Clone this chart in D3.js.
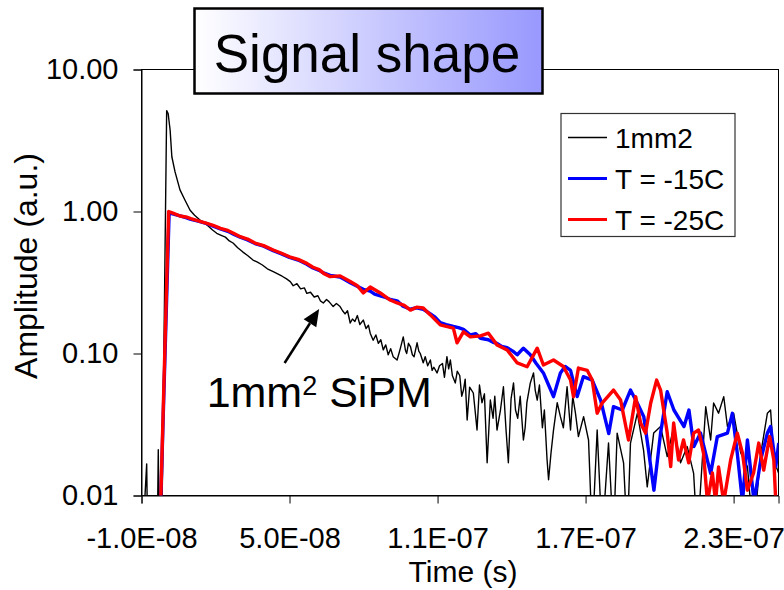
<!DOCTYPE html>
<html><head><meta charset="utf-8">
<script src="https://cdn.jsdelivr.net/npm/d3@7"></script>
<style>
body{margin:0;background:#fff}
svg{display:block}
text{font-family:"Liberation Sans",Arial,sans-serif;fill:#000}
</style>
</head><body>
<svg id="c" width="784" height="590"></svg>
<script>
// ---------- DATA (time in ns, amplitude in a.u.) ----------
const blackTime = [-9.5,-7.9,-7.5,-3.6,-3.2,-2.8,-1.8,0.2,0.8,1.6,2.3,3.6,5.6,7.6,9.7,11.5,13.7,15.5,17,18.8,20.5,22.3,24,25.6,27.1,29,31,33,35.2,37,39,41,43.4,45,47,48.8,50.3,51.5,53,54.5,56,57,58.5,60,61.5,62.5,63.7,65,66,67.7,69,70.5,71.5,72.5,73.5,74.6,75.5,76.5,77.5,78.5,79.9,81,82,82.7,83.9,85,86,87,88,89,90,91,92,93.6,94.5,95,96.1,97,97.5,98.2,99,99.8,100.5,101.7,102.4,103,104.2,105,106,107.1,107.8,108.5,109.8,110.8,112,112.8,113.8,114.5,115.2,116,117.2,118,119,119.8,120.5,121.2,122,123,124.5,125.2,126,127,128,129,130.1,131.4,132.5,133.2,134.1,135.5,136.7,137.7,138.7,139.8,140.8,141.6,142.5,143.5,144.8,145.5,146.2,147.6,148.9,149.6,150.4,151.3,152.5,153.3,154.4,155,156,157,158.5,159.8,161,162.5,163.9,164.8,165.9,167.1,169.2,171.2,172.7,174.7,176.7,179.3,181.3,182.8,185.4,186.9,188.2,191,193.5,195,197.6,200.4,203.1,205.7,208.5,211.2,213.8,215.3,218.7,220.7,221.9,223.9,226,227.5,230,232.9,235.6,238.1,240.8,243.7,245,246.3,248.3];
const blackAmp = [0.005,0.0167,0.005,0.005,0.021,0.005,0.005,5.13,4.9,3.75,2.43,1.9,1.42,1.205,1.02,0.94,0.871,0.83,0.79,0.74,0.702,0.68,0.66,0.62,0.6,0.555,0.52,0.49,0.455,0.44,0.42,0.395,0.377,0.365,0.35,0.335,0.321,0.3,0.31,0.285,0.29,0.265,0.27,0.25,0.255,0.235,0.227,0.24,0.232,0.214,0.225,0.214,0.2,0.19,0.2,0.164,0.175,0.168,0.185,0.16,0.172,0.15,0.158,0.139,0.124,0.135,0.118,0.125,0.106,0.115,0.098,0.108,0.095,0.09,0.102,0.11,0.131,0.105,0.1,0.118,0.112,0.098,0.095,0.119,0.104,0.1,0.086,0.095,0.082,0.09,0.076,0.08,0.073,0.082,0.085,0.068,0.095,0.078,0.09,0.07,0.062,0.075,0.07,0.05,0.0553,0.066,0.034,0.058,0.0527,0.04,0.0289,0.06,0.045,0.052,0.017,0.047,0.035,0.05,0.0289,0.04,0.0583,0.03,0.017,0.048,0.062,0.04,0.035,0.05,0.0246,0.03,0.045,0.062,0.073,0.055,0.047,0.06,0.03,0.04,0.0178,0.0129,0.02,0.0289,0.045,0.0359,0.03,0.0583,0.0289,0.05,0.038,0.026,0.0359,0.0246,0.005,0.0289,0.005,0.0234,0.005,0.0275,0.017,0.005,0.0234,0.038,0.0209,0.0115,0.0275,0.0306,0.0188,0.0306,0.017,0.0221,0.0143,0.005,0.0422,0.0246,0.0448,0.038,0.0497,0.0306,0.038,0.0199,0.016,0.005,0.0188,0.038,0.04,0.0178,0.0143];

const blueTime = [-2.5,1.2,3,5.6,8,10,13,16.5,19,22,25,27.5,30,33,36,39.5,43.4,46.5,50,53.5,57,59.5,62,64,66.5,68.5,70.5,72.5,74.6,77,79.9,82.7,84.5,86.8,88.5,90.8,93.6,96,99,101.5,104.2,107.1,109,111.1,113.5,116.4,118.5,120.5,123.3,125.5,127.4,130.6,132.5,134.1,136,138.2,140.5,142.3,144.8,147.6,150,152.9,155,157,159.8,161.7,163.9,166.6,169.1,172.7,176.1,179.4,181.3,184.9,188.2,191,193.6,195.5,197.7,200.4,203.1,205.8,209.9,211.9,213.9,216.6,220.7,223.4,227.5,229.5,231.5,233.6,235.6,238.3,241,243.7,245,247.1,248.3];
const blueAmp = [0.006,0.98,0.96,0.93,0.905,0.88,0.855,0.82,0.79,0.755,0.725,0.69,0.66,0.63,0.595,0.57,0.53,0.505,0.475,0.455,0.425,0.4,0.385,0.368,0.355,0.35,0.345,0.33,0.315,0.3,0.283,0.275,0.262,0.255,0.25,0.24,0.235,0.215,0.205,0.21,0.205,0.19,0.18,0.165,0.16,0.155,0.152,0.148,0.135,0.138,0.128,0.125,0.12,0.118,0.112,0.11,0.104,0.098,0.109,0.098,0.085,0.073,0.06,0.0497,0.073,0.081,0.076,0.0497,0.0687,0.065,0.047,0.0273,0.0422,0.04,0.0553,0.0446,0.0359,0.0209,0.0109,0.0275,0.0538,0.04,0.0306,0.04,0.0221,0.0275,0.0143,0.026,0.0275,0.0379,0.0198,0.009,0.0246,0.009,0.0178,0.0275,0.0306,0.016,0.0234];

const redTime = [-2.5,1,3,5.6,8,10,13,16.5,19,22,25,27.5,30,33,36,39.5,43.4,46.5,50,53.5,57,59.5,62,64,66.5,70.5,74.6,77.5,79.9,82.7,86.8,90.8,93.6,96.5,99,101.5,104.2,107.1,111.1,116.4,117.9,120.5,123.3,127.4,130.6,134.1,138.2,142.3,146.3,150.4,152.9,157,161,163.9,165.1,167.1,170.7,172.7,174.7,176.7,181.3,184.2,187.4,190.3,192.3,194.3,196.4,198.8,200.4,203.1,204.5,205.7,207.7,209.7,211.8,213.8,215.8,217.8,219.4,221.4,222.7,223.9,226,228.8,231.5,233.6,235.6,238.1,240.2,242.2,244.6,246.3,247.1];
const redAmp = [0.006,1.0,0.97,0.93,0.915,0.89,0.86,0.826,0.8,0.76,0.735,0.7,0.665,0.64,0.6,0.575,0.536,0.51,0.48,0.46,0.431,0.405,0.39,0.365,0.348,0.352,0.321,0.3,0.267,0.294,0.267,0.238,0.227,0.218,0.202,0.212,0.209,0.187,0.159,0.151,0.119,0.142,0.131,0.133,0.139,0.115,0.106,0.0858,0.0807,0.109,0.083,0.09,0.081,0.065,0.0496,0.079,0.076,0.065,0.038,0.0448,0.0553,0.047,0.0246,0.0497,0.0324,0.0275,0.0448,0.065,0.0553,0.0275,0.016,0.0324,0.0178,0.0246,0.017,0.0275,0.0289,0.0199,0.009,0.0144,0.009,0.0159,0.009,0.0178,0.0275,0.0199,0.0109,0.0144,0.0234,0.0151,0.026,0.0178,0.009];

const seriesNames = ["1mm2","T = -15C","T = -25C"];
const seriesColors = ["#000000","#0000ff","#ff0000"];
const seriesWidths = [1.4,3.4,3.4];
const xTickValues = [-10,50,110,170,230];
const yTickValues = [0.01,0.1,1,10];
const titleText = "Signal shape";
const xTitle = "Time (s)";
const yTitle = "Amplitude (a.u.)";

// ---------- CHART ----------
const svg = d3.select("#c");
const L = 141.5, R = 778.5, T = 69.5, B = 495.5;
const x = d3.scaleLinear().domain([-10, 248.2]).range([L, R]);
const y = d3.scaleLog().domain([0.01, 10]).range([B, T]);

const defs = svg.append("defs");
defs.append("clipPath").attr("id","plotclip").append("rect")
  .attr("x",L).attr("y",T).attr("width",R-L).attr("height",B-T);
const grad = defs.append("linearGradient").attr("id","tgrad")
  .attr("x1","0%").attr("x2","100%").attr("y1","0%").attr("y2","0%");
grad.append("stop").attr("offset","0%").attr("stop-color","#ffffff");
grad.append("stop").attr("offset","100%").attr("stop-color","#9898fe");

// plot frame
svg.append("rect").attr("x",L).attr("y",T).attr("width",R-L).attr("height",B-T)
  .attr("fill","none").attr("stroke","#000").attr("stroke-width",1);

// axes
const fmtX = v => {
  const s = (v*1e-9).toExponential(1).toUpperCase();
  return s.replace(/E([+-])(\d)$/, (m,sg,d)=>"E"+(sg==="+"?"+":"-")+"0"+d);
};
const xAxis = d3.axisBottom(x).tickValues(xTickValues).tickFormat(fmtX).tickSize(8).tickPadding(24);
const yAxis = d3.axisLeft(y).tickValues(yTickValues).tickFormat(d3.format(".2f")).tickSize(8).tickPadding(15);
const gx = svg.append("g").attr("transform",`translate(0,${B})`).call(xAxis);
const gy = svg.append("g").attr("transform",`translate(${L},0)`).call(yAxis);
[gx,gy].forEach(g=>{
  g.selectAll("path.domain").attr("stroke","#000");
  g.selectAll(".tick line").attr("stroke","#000");
  g.selectAll(".tick text").attr("font-size",29).attr("font-family","Liberation Sans, Arial, sans-serif").attr("fill","#000");
});

// axis titles
svg.append("text").attr("x",463).attr("y",582).attr("text-anchor","middle")
  .attr("font-size",30).text(xTitle);
svg.append("text").attr("transform",`translate(37,266) rotate(-90)`).attr("text-anchor","middle")
  .attr("font-size",32).text(yTitle);

// series
const series = [
  {t:blackTime, v:blackAmp},
  {t:blueTime, v:blueAmp},
  {t:redTime, v:redAmp}
];
const line = d3.line().x(d=>x(d[0])).y(d=>y(d[1]));
const gLines = svg.append("g").attr("clip-path","url(#plotclip)");
series.forEach((s,i)=>{
  const pts = s.t.map((t,j)=>[t, s.v[j]]);
  gLines.append("path").datum(pts).attr("d",line)
    .attr("fill","none").attr("stroke",seriesColors[i])
    .attr("stroke-width",seriesWidths[i]).attr("stroke-linejoin","round");
});

// legend
const lg = svg.append("g");
lg.append("rect").attr("x",561).attr("y",113.5).attr("width",174).attr("height",123)
  .attr("fill","#fff").attr("stroke","#333").attr("stroke-width",1.2);
seriesNames.forEach((n,i)=>{
  const yy = 137.5 + i*41;
  lg.append("line").attr("x1",568).attr("x2",607).attr("y1",yy).attr("y2",yy)
    .attr("stroke",seriesColors[i]).attr("stroke-width",i===0?1.4:3);
  lg.append("text").attr("x",615).attr("y",yy+10).attr("font-size",28).text(n);
});

// annotation arrow + label (positioned in data space)
const tipX = x(62), tipY = y(0.206), tailX = x(48), tailY = y(0.0857);
const ang = Math.atan2(tipY-tailY, tipX-tailX);
const hl = 17, hw = 7.5;
const bx = tipX - hl*Math.cos(ang), by = tipY - hl*Math.sin(ang);
svg.append("line").attr("x1",tailX).attr("y1",tailY).attr("x2",bx).attr("y2",by)
  .attr("stroke","#000").attr("stroke-width",2.5);
svg.append("polygon").attr("points",[
  [tipX,tipY],
  [bx + hw*Math.sin(ang), by - hw*Math.cos(ang)],
  [bx - hw*Math.sin(ang), by + hw*Math.cos(ang)]
].map(p=>p.join(",")).join(" ")).attr("fill","#000");
const ann = svg.append("text").attr("x",x(16.4)).attr("y",y(0.042)).attr("font-size",43);
ann.append("tspan").text("1mm");
ann.append("tspan").attr("font-size",27).attr("dy",-12).text("2");
ann.append("tspan").attr("dy",12).text(" SiPM");

// title box
svg.append("rect").attr("x",194.5).attr("y",8.5).attr("width",348).attr("height",85)
  .attr("fill","url(#tgrad)").attr("stroke","#000").attr("stroke-width",2.5);
svg.append("text").attr("x",367).attr("y",72).attr("text-anchor","middle")
  .attr("font-size",53).text(titleText);
</script>
</body></html>
